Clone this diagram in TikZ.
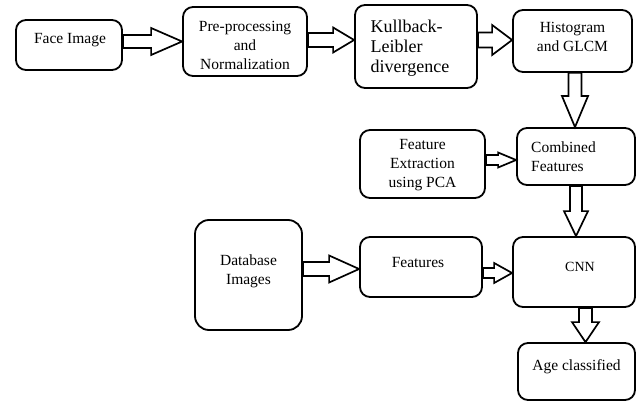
\documentclass[tikz,border=0pt]{standalone}
\usepackage{fontspec}
\setmainfont{Liberation Serif}
\usetikzlibrary{calc}

% hollow block arrows: from, to, shaft half width, head half width, head length
\newcommand\harrow[5]{%
  \draw[blockarr] let \p1=(#1), \p2=(#2) in
    (\x1,\y1+#3) -- (\x2-#5,\y1+#3) -- (\x2-#5,\y1+#4) -- (\x2,\y1)
    -- (\x2-#5,\y1-#4) -- (\x2-#5,\y1-#3) -- (\x1,\y1-#3) -- cycle;}
\newcommand\varrow[5]{%
  \draw[blockarr] let \p1=(#1), \p2=(#2) in
    (\x1+#3,\y1) -- (\x1+#3,\y2+#5) -- (\x1+#4,\y2+#5) -- (\x1,\y2)
    -- (\x1-#4,\y2+#5) -- (\x1-#3,\y2+#5) -- (\x1-#3,\y1) -- cycle;}

\tikzset{
  box/.style={draw, line width=1.8pt, rounded corners=10pt, inner sep=0pt},
  txt/.style={font=\fontsize{15.5}{19}\selectfont, align=center, inner sep=0pt},
  blockarr/.style={line width=1.7pt, line join=miter, fill=white}
}

\begin{document}
\begin{tikzpicture}[x=1pt, y=-1pt]
    \useasboundingbox (0,0) rectangle (639,401);

    % first row
    \node[box, minimum width=106pt, minimum height=50pt,
      label={[txt, xshift=1pt, yshift=5pt]center:Face Image}] (face) at (69,45) {};
    \node[box, minimum width=124pt, minimum height=69pt,
      label={[txt, yshift=-3.5pt]center:{Pre-processing\\and\\Normalization}}] (prep) at (245,41.5) {};
    \node[box, minimum width=122pt, minimum height=83pt,
      label={[txt, align=left, font=\fontsize{18}{20}\selectfont, xshift=-6pt, yshift=-1.5pt]center:{Kullback-\\Leibler\\divergence}}] (kld) at (416,46.5) {};
    \node[box, minimum width=119pt, minimum height=62pt,
      label={[txt, yshift=4pt]center:{Histogram\\and GLCM}}] (hist) at (572.5,41) {};

    % second row
    \node[box, minimum width=125pt, minimum height=68pt,
      label={[txt, yshift=-1.5pt]center:{Feature\\Extraction\\using PCA}}] (pca) at (422.5,164) {};
    \node[box, minimum width=118pt, minimum height=57pt,
      label={[txt, align=left, xshift=-12.5pt]center:{Combined\\Features}}] (comb) at (576,156.5) {};

    % third row
    \node[box, rounded corners=14pt, minimum width=107pt, minimum height=110pt,
      label={[txt, yshift=4pt]center:{Database\\Images}}] (db) at (248.5,275) {};
    \node[box, minimum width=122pt, minimum height=60pt,
      label={[txt, xshift=-3pt, yshift=5pt]center:Features}] (feat) at (421,267) {};
    \node[box, minimum width=122pt, minimum height=70pt,
      label={[txt, font=\fontsize{14}{17}\selectfont, xshift=6pt, yshift=5pt]center:CNN}] (cnn) at (574,272) {};
    \node[box, minimum width=117pt, minimum height=57pt,
      label={[txt, yshift=4.5pt]center:Age classified}] (age) at (576.5,371.5) {};

    % arrows
    \harrow{[yshift=3.5pt]face.east}{prep.west}{6.5pt}{13.5pt}{31pt}
    \harrow{[yshift=1.5pt]prep.east}{kld.west}{7pt}{12.5pt}{21pt}
    \harrow{[yshift=6.5pt]kld.east}{hist.west}{7.5pt}{15pt}{20pt}
    \varrow{[xshift=2.5pt]hist.south}{comb.north}{6.5pt}{13pt}{31pt}
    \harrow{[yshift=4pt]pca.east}{comb.west}{5pt}{7.5pt}{18pt}
    \varrow{comb.south}{cnn.north}{6pt}{12pt}{25pt}
    \harrow{[yshift=6pt]db.east}{feat.west}{7pt}{13.5pt}{30pt}
    \harrow{[yshift=-6pt]feat.east}{cnn.west}{5pt}{10pt}{18pt}
    \varrow{[xshift=11.5pt]cnn.south}{age.north}{6.5pt}{13.5pt}{20pt}
\end{tikzpicture}
\end{document}
